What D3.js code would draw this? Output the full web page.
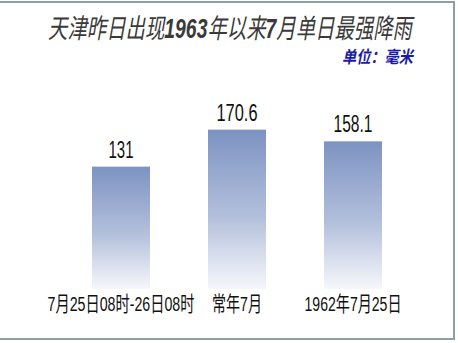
<!DOCTYPE html>
<html>
<head>
<meta charset="utf-8">
<script src="https://cdn.jsdelivr.net/npm/d3@7"></script>
<style>
body { margin: 0; background: #fff; }
svg { display: block; }
</style>
</head>
<body>
<script>
// данные
var categories = ["7月25日08时-26日08时", "常年7月", "1962年7月25日"];
var values = [131, 170.6, 158.1];
var valueLabels = ["131", "170.6", "158.1"];

var width = 458, height = 343;
var baseY = 289;

var svg = d3.select("body").append("svg")
    .attr("width", width)
    .attr("height", height)
    .attr("viewBox", "0 0 " + width + " " + height);

var grad = svg.append("defs").append("linearGradient")
    .attr("id", "barGrad")
    .attr("x1", 0).attr("y1", 0).attr("x2", 0).attr("y2", 1);
grad.append("stop").attr("offset", "0%").attr("stop-color", "#7c93c2");
grad.append("stop").attr("offset", "55%").attr("stop-color", "#b3c0dc");
grad.append("stop").attr("offset", "100%").attr("stop-color", "#f6f7fb");

// рамка
svg.append("rect")
    .attr("x", -3).attr("y", 2)
    .attr("width", 457).attr("height", 337)
    .attr("fill", "none")
    .attr("stroke", "#8c9fa3")
    .attr("stroke-width", 2);

var x = d3.scaleBand()
    .domain(categories)
    .range([63, 411])
    .paddingInner(0.5)
    .paddingOuter(0.25);

var y = d3.scaleLinear()
    .domain([0, 200])
    .range([baseY, baseY - 200 * 0.934]);

svg.selectAll("rect.bar")
    .data(values)
    .enter().append("rect")
    .attr("class", "bar")
    .attr("x", function(d, i) { return x(categories[i]); })
    .attr("y", function(d) { return y(d); })
    .attr("width", x.bandwidth())
    .attr("height", function(d) { return baseY - y(d); })
    .attr("fill", "url(#barGrad)");

var font = "'Liberation Sans', Arial, 'Noto Sans CJK SC', sans-serif";

// сжимает текст по горизонтали до нужной ширины (центр в cx)
function squeeze(g, cx, cy, w) {
    var t = g.select("text");
    var len = t.node().getComputedTextLength();
    var s = w / len;
    g.attr("transform", "translate(" + cx + "," + cy + ") scale(" + s + ",1)");
}

var valWidths = [25, 41, 39];
values.forEach(function(d, i) {
    var g = svg.append("g");
    g.append("text")
        .attr("text-anchor", "middle")
        .attr("font-family", font)
        .attr("font-size", 23)
        .attr("fill", "#111")
        .text(valueLabels[i]);
    squeeze(g, x(categories[i]) + x.bandwidth() / 2, y(d) - 9, valWidths[i]);
});

var labelWidths = [147, 50, 97];
categories.forEach(function(d, i) {
    var g = svg.append("g");
    g.append("text")
        .attr("text-anchor", "middle")
        .attr("font-family", font)
        .attr("font-size", 21)
        .attr("fill", "#111")
        .text(d);
    squeeze(g, x(d) + x.bandwidth() / 2, 311, labelWidths[i]);
});

// заголовок
var tg = svg.append("g");
var title = tg.append("text")
    .attr("text-anchor", "middle")
    .attr("font-family", font)
    .attr("font-size", 27)
    .attr("font-style", "italic")
    .attr("fill", "#3a3a3a");
title.append("tspan").text("天津昨日出现");
title.append("tspan").attr("font-weight", "bold").text("1963");
title.append("tspan").text("年以来");
title.append("tspan").attr("font-weight", "bold").text("7");
title.append("tspan").text("月单日最强降雨");
squeeze(tg, 230, 38, 364);

var ug = svg.append("g");
ug.append("text")
    .attr("text-anchor", "middle")
    .attr("font-family", "'Noto Sans CJK SC', sans-serif")
    .attr("font-size", 17)
    .attr("font-weight", "bold")
    .attr("font-style", "italic")
    .attr("fill", "#1a1aa8")
    .text("单位：毫米");
squeeze(ug, 377.5, 63, 71);
</script>
</body>
</html>
